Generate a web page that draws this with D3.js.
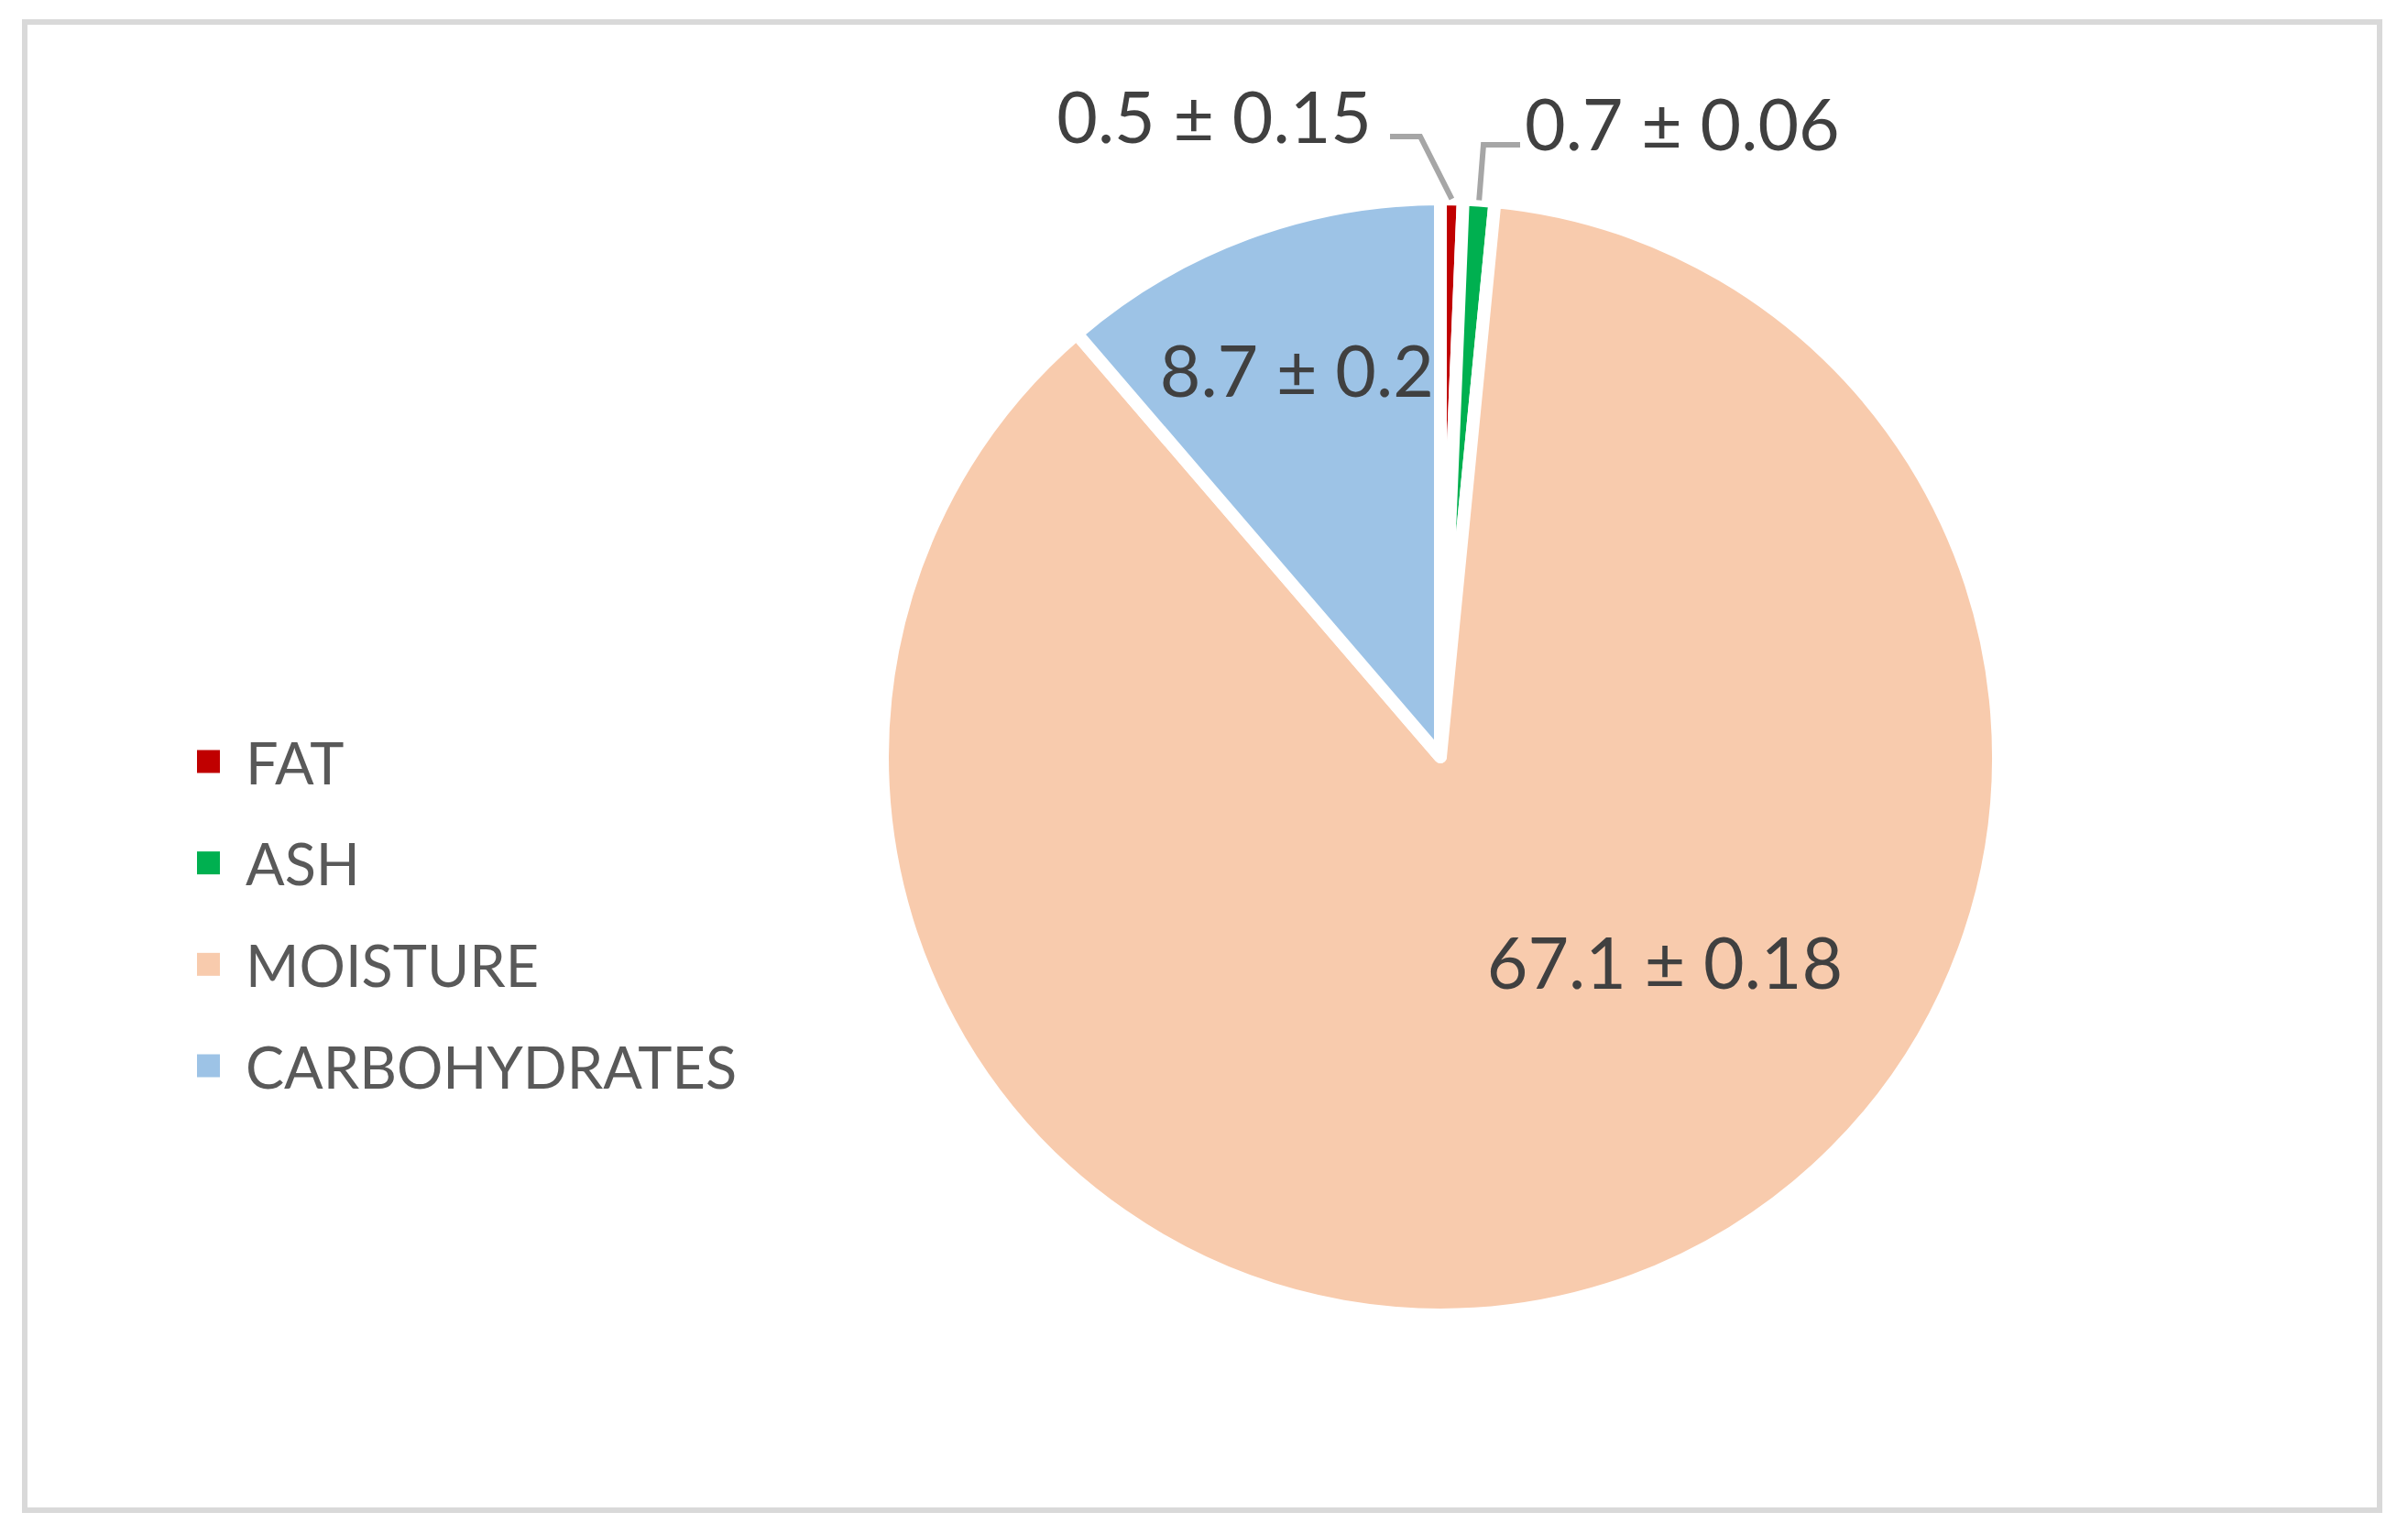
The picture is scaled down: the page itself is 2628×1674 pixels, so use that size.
<!DOCTYPE html>
<html>
<head>
<meta charset="utf-8">
<script src="https://cdn.jsdelivr.net/npm/d3@7"></script>
<style>
  html, body { margin: 0; padding: 0; background: #fff; }
  svg { display: block; }
</style>
</head>
<body>
<svg id="chart" width="2628" height="1674"></svg>
<script>
// ---- data ----
const categories = ["FAT", "ASH", "MOISTURE", "CARBOHYDRATES"];
const values = [0.5, 0.7, 67.1, 8.7];
const errors = ["0.15", "0.06", "0.18", "0.2"];
const colors = ["#c00000", "#00b050", "#f8cbad", "#9dc3e6"];

// ---- layout ----
const W = 2628, H = 1674;
const cx = 1572, cy = 826, R = 609;
const font = "Lato, 'Open Sans', sans-serif";

const svg = d3.select("#chart");

// frame
svg.append("rect")
  .attr("x", 27).attr("y", 24)
  .attr("width", 2570).attr("height", 1624)
  .attr("fill", "#fff")
  .attr("stroke", "#d9d9d9").attr("stroke-width", 6);

const data = categories.map((c, i) => ({ cat: c, value: values[i], err: errors[i], color: colors[i] }));

const pie = d3.pie().value(d => d.value).sort(null);
const arcs = pie(data);
const arc = d3.arc().innerRadius(0).outerRadius(R);

const g = svg.append("g").attr("transform", `translate(${cx},${cy})`);

g.selectAll("path.slice")
  .data(arcs)
  .join("path")
  .attr("class", "slice")
  .attr("d", arc)
  .attr("fill", d => d.data.color)
  .attr("stroke", "#fff")
  .attr("stroke-width", 14)
  .attr("stroke-linejoin", "round");

// labels
const labelColor = "#404040";
const labelSize = 77;
const lbl = d => `${d.data.value} \u00b1 ${d.data.err}`;

// carbohydrates: inside at centroid
const carbArc = d3.arc().innerRadius(451).outerRadius(451);
{
  const a = arcs[3];
  const [x, y] = carbArc.centroid(a);
  g.append("text").attr("x", x).attr("y", y)
    .attr("text-anchor", "middle").attr("dominant-baseline", "central")
    .attr("font-family", font).attr("font-size", labelSize).attr("fill", labelColor)
    .text(lbl(a));
}
// moisture: inside, best-fit position
{
  const a = arcs[2];
  g.append("text").attr("x", 1817 - cx).attr("y", 1049 - cy)
    .attr("text-anchor", "middle").attr("dominant-baseline", "central")
    .attr("font-family", font).attr("font-size", labelSize).attr("fill", labelColor)
    .text(lbl(a));
}
// fat & ash: outside with leader lines
const edgeArc = d3.arc().innerRadius(R).outerRadius(R);
const leaders = [
  { i: 0, elbowX: 1550 - cx, elbowY: 149 - cy, endX: 1517 - cx, tx: 1497 - cx, ty: 126 - cy, anchor: "end" },
  { i: 1, elbowX: 1619 - cx, elbowY: 158 - cy, endX: 1659 - cx, tx: 1664 - cx, ty: 134 - cy, anchor: "start" }
];
leaders.forEach(L => {
  const a = arcs[L.i];
  const [px, py] = edgeArc.centroid(a);
  g.append("path")
    .attr("d", d3.line()([[px, py], [L.elbowX, L.elbowY], [L.endX, L.elbowY]]))
    .attr("fill", "none").attr("stroke", "#a6a6a6").attr("stroke-width", 6);
  g.append("text").attr("x", L.tx).attr("y", L.ty)
    .attr("text-anchor", L.anchor).attr("dominant-baseline", "central")
    .attr("font-family", font).attr("font-size", labelSize).attr("fill", labelColor)
    .text(lbl(a));
});

// legend
const legend = svg.append("g");
const legY = d3.scalePoint().domain(categories).range([831, 1163]);
categories.forEach((c, i) => {
  const y = legY(c);
  legend.append("rect").attr("x", 215).attr("y", y - 12.5).attr("width", 25).attr("height", 25).attr("fill", colors[i]);
  legend.append("text").attr("x", 268).attr("y", y)
    .attr("dominant-baseline", "central")
    .attr("font-family", font).attr("font-size", 63).attr("fill", "#595959")
    .text(c);
});
</script>
</body>
</html>
